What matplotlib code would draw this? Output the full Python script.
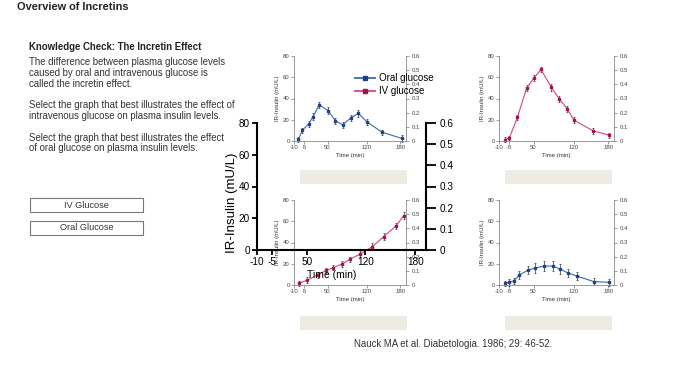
import matplotlib
matplotlib.use("Agg")
import matplotlib.pyplot as plt
from matplotlib.patches import Rectangle
from matplotlib.lines import Line2D

plt.rcParams["font.family"] = ["Liberation Sans", "DejaVu Sans"]

# ---- data ----
# top-left panel (oral glucose)
oral_a_t = [-2, 5, 16, 24, 35, 51, 64, 77, 91, 105, 120, 147, 182]
oral_a_ins = [1.6, 10.2, 15.9, 22.9, 34.0, 28.6, 19.0, 15.2, 21.6, 26.0, 18.1, 8.3, 2.5]
oral_a_err = [2.5, 2.5, 2.5, 3, 3, 3, 3, 3, 3, 3, 3, 2.5, 3]

# top-right panel (IV glucose, peak)
iv_b_t = [0, 8, 22, 38, 51, 63, 81, 95, 109, 120, 154, 182]
iv_b_ins = [1.3, 2.9, 22.2, 49.8, 59.4, 67.3, 50.5, 39.4, 30.2, 19.7, 9.5, 5.4]
iv_b_err = [2, 2, 2.5, 2.5, 2.5, 2.5, 3, 3, 3, 2.5, 3, 2.5]

# bottom-left panel (IV glucose, rising)
iv_c_t = [-1, 14, 32, 48, 60, 76, 90, 107, 130, 150, 172, 186]
iv_c_ins = [1.6, 4.7, 9.4, 13.8, 16.3, 19.8, 24.2, 28.9, 36.1, 45.5, 55.5, 65.3]
iv_c_err = [2.5, 2.5, 2.5, 2.5, 2.5, 2.5, 2.5, 3, 3, 3, 3, 3]

# bottom-right panel (oral glucose, flat)
oral_d_t = [0, 8, 16, 25, 41, 53, 68, 84, 96, 110, 126, 155, 182]
oral_d_ins = [1.5, 2.5, 3.9, 9.2, 14.2, 16.0, 17.8, 17.8, 15.0, 11.3, 8.3, 3.2, 2.5]
oral_d_err = [2.5, 3, 3, 4, 4, 5, 4.5, 4.5, 4.5, 4, 4, 3, 3]

tick_pos = [-10, 8, 50, 120, 180]
tick_lab = ["-10", "-5", "50", "120", "180"]
left_ticks = [0, 20, 40, 60, 80]
right_ticks = [0, 0.1, 0.2, 0.3, 0.4, 0.5, 0.6]
right_lab = ["0", "0.1", "0.2", "0.3", "0.4", "0.5", "0.6"]

body_lines = [
    "The difference between plasma glucose levels",
    "caused by oral and intravenous glucose is",
    "called the incretin effect.",
    "",
    "Select the graph that best illustrates the effect of",
    "intravenous glucose on plasma insulin levels.",
    "",
    "Select the graph that best illustrates the effect",
    "of oral glucose on plasma insulin levels.",
]

BLUE, BLUE_D = "#3d68b4", "#1f3f86"
MAG, MAG_D = "#d2468a", "#a3124f"
W, H = 700, 375

fig = plt.figure(figsize=(7, 3.75), dpi=100)


def px_axes(l, t, r, b):
    return fig.add_axes([l / W, 1 - b / H, (r - l) / W, (b - t) / H])


def ftext(x, y, s, **kw):
    fig.text(x / W, 1 - y / H, s, **kw)


def small_chart(l, t, r, b, times, vals, errs, c, cd):
    ax = px_axes(l, t, r, b)
    ax.errorbar(times, vals, yerr=errs, color=c, lw=0.8, marker="s", ms=1.8,
                mfc=cd, mec=cd, ecolor="#333333", elinewidth=0.5,
                capsize=1.0, capthick=0.5, clip_on=False)
    ax.set_xlim(-10, 190)
    ax.set_ylim(0, 80)
    ax.set_xticks(tick_pos, tick_lab)
    ax.set_yticks(left_ticks)
    ax.tick_params(labelsize=4.3, length=2, width=0.5, pad=1,
                   color="#777777", labelcolor="#444444")
    for s in ["top", "right"]:
        ax.spines[s].set_visible(False)
    for s in ["left", "bottom"]:
        ax.spines[s].set_color("#888888")
        ax.spines[s].set_linewidth(0.6)
    ax.set_xlabel("Time (min)", fontsize=4.3, labelpad=2, color="#333333")
    ax.set_ylabel("IR-Insulin (mU/L)", fontsize=4.3, labelpad=2.5, color="#333333")
    ax2 = ax.twinx()
    ax2.set_ylim(0, 0.6)
    ax2.set_yticks(right_ticks, right_lab)
    ax2.tick_params(labelsize=4.3, length=2.5, width=0.5, pad=1.5,
                    color="#777777", labelcolor="#444444")
    for s in ["top", "left", "bottom"]:
        ax2.spines[s].set_visible(False)
    ax2.spines["right"].set_color("#888888")
    ax2.spines["right"].set_linewidth(0.6)
    return ax


# ---- slide text ----
ftext(17, 7, "Overview of Incretins", fontsize=7.9, fontweight="bold",
      color="#222222", va="center")
ftext(29, 47, "Knowledge Check: The Incretin Effect", fontsize=6.9,
      fontweight="bold", color="#222222", va="center")
y = 62
for line in body_lines:
    if line:
        ftext(29, y, line, fontsize=6.95, color="#333333", va="center")
    y += 10.8

for label, yt in [("IV Glucose", 198), ("Oral Glucose", 221)]:
    fig.add_artist(Rectangle((30 / W, 1 - (yt + 14) / H), 113 / W, 14 / H,
                             transform=fig.transFigure, fc="white",
                             ec="#777777", lw=0.8))
    ftext(86.5, yt + 7, label, fontsize=6.6, color="#333333",
          ha="center", va="center")

# beige answer boxes
for (bx, by) in [(300, 170), (505, 170), (300, 316), (505, 316)]:
    fig.add_artist(Rectangle((bx / W, 1 - (by + 14) / H), 107 / W, 14 / H,
                             transform=fig.transFigure, fc="#eeebe2",
                             ec="none"))

ftext(453, 344, "Nauck MA et al. Diabetologia. 1986; 29: 46-52.",
      fontsize=6.9, color="#333333", ha="center", va="center")

# ---- four small panels ----
small_chart(294, 56, 406, 141, oral_a_t, oral_a_ins, oral_a_err, BLUE, BLUE_D)
small_chart(499, 56, 614, 141, iv_b_t, iv_b_ins, iv_b_err, MAG, MAG_D)
small_chart(294, 200, 406, 285, iv_c_t, iv_c_ins, iv_c_err, MAG, MAG_D)
small_chart(499, 200, 614, 285, oral_d_t, oral_d_ins, oral_d_err, BLUE, BLUE_D)

# ---- large empty overlay axes with legend ----
big = px_axes(257, 123, 426, 250)
big.patch.set_alpha(0)
big.set_xlim(-10, 193)
big.set_ylim(0, 80)
big.set_xticks(tick_pos, tick_lab)
big.set_yticks(left_ticks)
big.tick_params(labelsize=7.2, length=3.5, width=1.3, pad=1.5, color="black")
big.spines["top"].set_visible(False)
big.spines["right"].set_visible(False)
for s in ["left", "bottom"]:
    big.spines[s].set_linewidth(1.5)
big.set_xlabel("Time (min)", fontsize=7.5)
big.xaxis.set_label_coords(0.44, -0.16)
big.set_ylabel("IR-Insulin (mU/L)", fontsize=9.5)
big.yaxis.set_label_coords(-0.115, 0.37)
big2 = big.twinx()
big2.set_ylim(0, 0.6)
big2.set_yticks(right_ticks, right_lab)
big2.tick_params(labelsize=7.2, length=7, width=1.3, pad=3)
for s in ["top", "left", "bottom"]:
    big2.spines[s].set_visible(False)
big2.spines["right"].set_linewidth(1.5)

handles = [
    Line2D([], [], color=BLUE, lw=1.3, marker="s", ms=2.5, mfc=BLUE_D, mec=BLUE_D),
    Line2D([], [], color=MAG, lw=1.3, marker="s", ms=2.5, mfc=MAG_D, mec=MAG_D),
]
fig.legend(handles, ["Oral glucose", "IV glucose"], loc="upper left",
           bbox_to_anchor=(355 / W, 1 - 73 / H), frameon=False, fontsize=7,
           handlelength=2.1, handletextpad=0.4, labelspacing=0.3,
           borderpad=0, borderaxespad=0)

fig.savefig("out.png", dpi=100)
